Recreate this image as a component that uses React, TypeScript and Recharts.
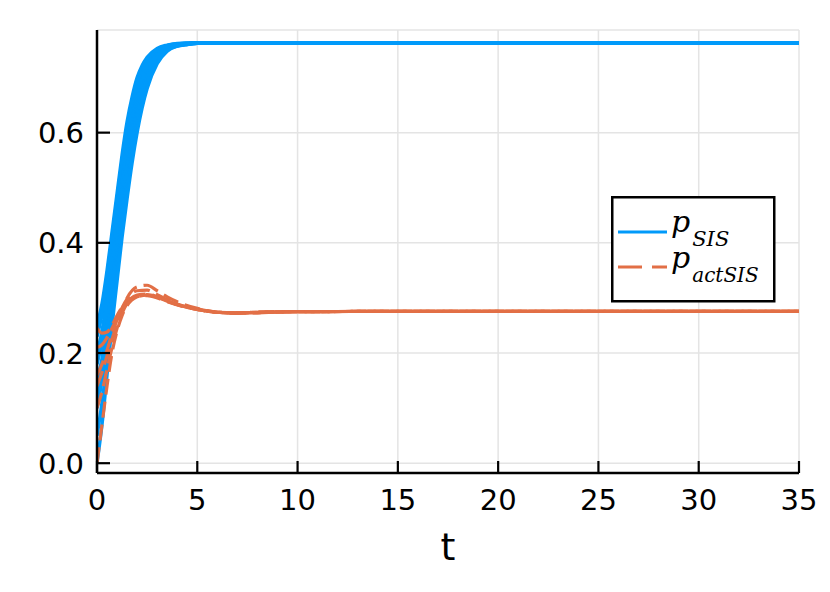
import React from "react";
import { LineChart, Line, XAxis, YAxis, CartesianGrid, Legend } from "recharts";

const BLUE = "#009AFA";
const ORANGE = "#E26F46";

const xTicks = [0, 5, 10, 15, 20, 25, 30, 35];
const yTicks = [0, 0.2, 0.4, 0.6];

const tBlue = [0, 0.25, 0.5, 0.75, 1, 1.25, 1.5, 1.75, 2, 2.25, 2.5, 3, 3.5, 4, 4.5, 5, 6, 35];
const sis1 = [0.25, 0.29, 0.35, 0.42, 0.49, 0.56, 0.62, 0.665, 0.7, 0.722, 0.737, 0.753, 0.759, 0.762, 0.763, 0.763, 0.763, 0.763];
const sis2 = [0.23, 0.27, 0.33, 0.4, 0.47, 0.54, 0.6, 0.65, 0.69, 0.715, 0.732, 0.75, 0.758, 0.761, 0.762, 0.763, 0.763, 0.763];
const sis3 = [0.2, 0.24, 0.3, 0.37, 0.44, 0.51, 0.575, 0.63, 0.675, 0.705, 0.725, 0.746, 0.756, 0.76, 0.762, 0.763, 0.763, 0.763];
const sis4 = [0.15, 0.19, 0.25, 0.32, 0.4, 0.47, 0.54, 0.6, 0.65, 0.69, 0.715, 0.741, 0.754, 0.759, 0.761, 0.763, 0.763, 0.763];
const sis5 = [0.1, 0.15, 0.21, 0.28, 0.36, 0.44, 0.51, 0.575, 0.63, 0.67, 0.7, 0.735, 0.752, 0.758, 0.761, 0.762, 0.763, 0.763];
const sis6 = [0, 0.07, 0.16, 0.25, 0.33, 0.41, 0.48, 0.545, 0.6, 0.645, 0.68, 0.725, 0.748, 0.757, 0.76, 0.762, 0.763, 0.763];
const sis7 = [0.24, 0.28, 0.34, 0.41, 0.48, 0.55, 0.61, 0.657, 0.695, 0.718, 0.734, 0.751, 0.758, 0.761, 0.762, 0.763, 0.763, 0.763];
const sis8 = [0.18, 0.22, 0.28, 0.35, 0.42, 0.49, 0.558, 0.615, 0.663, 0.697, 0.72, 0.744, 0.755, 0.76, 0.762, 0.763, 0.763, 0.763];
const sis9 = [0.125, 0.17, 0.23, 0.3, 0.38, 0.455, 0.525, 0.588, 0.64, 0.68, 0.708, 0.738, 0.753, 0.758, 0.761, 0.762, 0.763, 0.763];
const sis10 = [0.05, 0.11, 0.185, 0.265, 0.345, 0.425, 0.495, 0.56, 0.615, 0.658, 0.69, 0.73, 0.75, 0.757, 0.76, 0.762, 0.763, 0.763];

const tOrange = [0, 0.25, 0.5, 0.75, 1, 1.25, 1.5, 2, 2.5, 3, 3.5, 4, 5, 6, 7, 8, 10, 15, 35];
const act1 = [0.245, 0.236, 0.238, 0.25, 0.268, 0.283, 0.294, 0.303, 0.304, 0.3, 0.293, 0.287, 0.279, 0.274, 0.273, 0.274, 0.275, 0.2755, 0.2755];
const act2 = [0.21, 0.215, 0.228, 0.245, 0.263, 0.28, 0.292, 0.302, 0.305, 0.301, 0.294, 0.288, 0.279, 0.274, 0.273, 0.274, 0.275, 0.2755, 0.2755];
const act3 = [0.16, 0.18, 0.205, 0.235, 0.26, 0.282, 0.298, 0.313, 0.314, 0.306, 0.297, 0.289, 0.28, 0.274, 0.272, 0.273, 0.275, 0.2755, 0.2755];
const act4 = [0.14, 0.165, 0.195, 0.225, 0.255, 0.28, 0.3, 0.32, 0.323, 0.313, 0.302, 0.293, 0.281, 0.274, 0.272, 0.273, 0.275, 0.2755, 0.2755];
const act5 = [0.1, 0.13, 0.17, 0.21, 0.245, 0.272, 0.29, 0.305, 0.307, 0.302, 0.295, 0.288, 0.279, 0.274, 0.273, 0.274, 0.275, 0.2755, 0.2755];
const act6 = [0, 0.07, 0.14, 0.2, 0.24, 0.268, 0.286, 0.302, 0.306, 0.302, 0.295, 0.288, 0.279, 0.274, 0.273, 0.274, 0.275, 0.2755, 0.2755];

const mk = (ts: number[], vs: number[]) => ts.map((t, i) => ({ t, v: vs[i] }));

const blueRuns = [sis1, sis7, sis2, sis3, sis8, sis4, sis9, sis5, sis10, sis6].map((vs) => mk(tBlue, vs));
const orangeRuns = [act1, act2, act3, act4, act5, act6].map((vs) => mk(tOrange, vs));

const FONT = "DejaVu Sans";
const SERIF = "DejaVu Serif";

const XTick = (props: any) => {
  const { x, y, payload } = props;
  return (
    <g>
      <line x1={x} x2={x} y1={y} y2={y - 12} stroke="#000" strokeWidth={2.2} />
      <text x={x} y={y + 37} textAnchor="middle" fontFamily={FONT} fontSize={29} fill="#000">
        {payload.value}
      </text>
    </g>
  );
};

const YTick = (props: any) => {
  const { x, y, payload } = props;
  return (
    <g>
      <line x1={x} x2={x + 13} y1={y} y2={y} stroke="#000" strokeWidth={2.2} />
      <text x={x - 13} y={y + 10.5} textAnchor="end" fontFamily={FONT} fontSize={29} fill="#000">
        {Number(payload.value).toFixed(1)}
      </text>
    </g>
  );
};

const LegendBox = () => (
  <svg width={166} height={108} style={{ display: "block" }}>
    <rect x={1.25} y={1.25} width={162} height={104} fill="#fff" stroke="#000" strokeWidth={2.5} />
    <line x1={7} x2={56} y1={36} y2={36} stroke={BLUE} strokeWidth={3} />
    <line x1={7} x2={56} y1={71} y2={71} stroke={ORANGE} strokeWidth={3} strokeDasharray="24 10" />
    <text x={60} y={36} fontFamily={SERIF} fontStyle="italic" fontSize={30} fill="#000">
      p
      <tspan dx={2} dy={14} fontSize={21}>
        SIS
      </tspan>
    </text>
    <text x={60} y={72} fontFamily={SERIF} fontStyle="italic" fontSize={30} fill="#000">
      p
      <tspan dx={2} dy={14} fontSize={20}>
        actSIS
      </tspan>
    </text>
  </svg>
);

export default function App() {
  return (
    <div style={{ position: "absolute", left: 0, top: 0, background: "#fff" }}>
      <LineChart width={830} height={592} margin={{ top: 30, right: 31, bottom: 0, left: 0 }}>
        <CartesianGrid stroke="#e4e4e4" strokeWidth={1.5} />
        <XAxis
          type="number"
          dataKey="t"
          domain={[0, 35]}
          ticks={xTicks}
          allowDataOverflow
          height={119}
          tickSize={0}
          tickMargin={0}
          tickLine={false}
          tick={<XTick />}
          axisLine={{ stroke: "#000", strokeWidth: 2.5 }}
          label={{ value: "t", position: "insideBottom", offset: 32, fontSize: 38, fontFamily: FONT, fill: "#000" }}
        />
        <YAxis
          type="number"
          dataKey="v"
          domain={[-0.0178, 0.7863]}
          ticks={yTicks}
          allowDataOverflow
          width={97}
          tickSize={0}
          tickMargin={0}
          tickLine={false}
          tick={<YTick />}
          axisLine={{ stroke: "#000", strokeWidth: 2.5 }}
        />
        <Legend
          layout="vertical"
          align="center"
          verticalAlign="middle"
          content={() => <LegendBox />}
          wrapperStyle={{ left: 611, top: 196, width: 166, height: 108 }}
        />
        {blueRuns.map((d, i) => (
          <Line
            key={"b" + i}
            data={d}
            dataKey="v"
            type="monotone"
            stroke={BLUE}
            strokeWidth={3.4}
            dot={false}
            isAnimationActive={false}
            legendType="none"
          />
        ))}
        {orangeRuns.map((d, i) => (
          <Line
            key={"o" + i}
            data={d}
            dataKey="v"
            type="monotone"
            stroke={ORANGE}
            strokeWidth={3.2}
            strokeDasharray="16 7"
            dot={false}
            isAnimationActive={false}
            legendType="none"
          />
        ))}
      </LineChart>
    </div>
  );
}
